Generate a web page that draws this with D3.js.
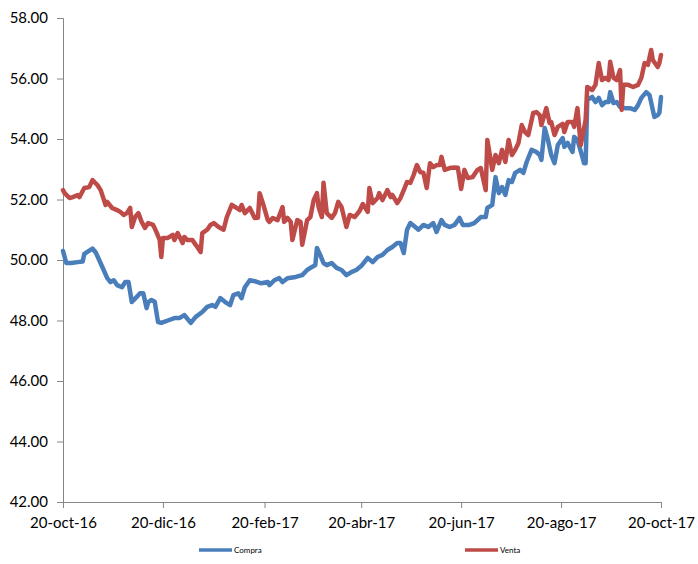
<!DOCTYPE html>
<html>
<head>
<meta charset="utf-8">
<script src="https://cdn.jsdelivr.net/npm/d3@7"></script>
<style>
  html, body { margin: 0; padding: 0; background: #fff; }
  svg { display: block; }
  text { font-family: Lato, "Liberation Sans", Arial, sans-serif; fill: #000; }
</style>
</head>
<body>
<svg id="chart" width="698" height="564"></svg>
<script>
// Tipo de cambio diario: compra y venta
const compraDates = ["2016-10-20","2016-10-22","2016-10-25","2016-10-29","2016-11-01","2016-11-02","2016-11-07","2016-11-09","2016-11-13","2016-11-16","2016-11-18","2016-11-20","2016-11-22","2016-11-25","2016-11-27","2016-11-29","2016-12-01","2016-12-04","2016-12-06","2016-12-08","2016-12-10","2016-12-11","2016-12-13","2016-12-15","2016-12-17","2016-12-19","2016-12-23","2016-12-27","2016-12-30","2017-01-02","2017-01-06","2017-01-09","2017-01-13","2017-01-16","2017-01-19","2017-01-21","2017-01-24","2017-01-27","2017-01-30","2017-02-01","2017-02-04","2017-02-06","2017-02-08","2017-02-11","2017-02-14","2017-02-18","2017-02-22","2017-02-23","2017-02-26","2017-03-01","2017-03-03","2017-03-06","2017-03-11","2017-03-15","2017-03-18","2017-03-21","2017-03-23","2017-03-24","2017-03-26","2017-03-28","2017-03-30","2017-04-02","2017-04-05","2017-04-08","2017-04-11","2017-04-14","2017-04-17","2017-04-20","2017-04-24","2017-04-27","2017-04-30","2017-05-03","2017-05-06","2017-05-09","2017-05-12","2017-05-14","2017-05-16","2017-05-18","2017-05-20","2017-05-23","2017-05-25","2017-05-28","2017-05-31","2017-06-03","2017-06-05","2017-06-08","2017-06-10","2017-06-13","2017-06-16","2017-06-19","2017-06-21","2017-06-25","2017-06-28","2017-07-02","2017-07-05","2017-07-06","2017-07-09","2017-07-11","2017-07-13","2017-07-15","2017-07-17","2017-07-19","2017-07-21","2017-07-23","2017-07-26","2017-07-28","2017-07-30","2017-08-02","2017-08-05","2017-08-07","2017-08-08","2017-08-10","2017-08-12","2017-08-14","2017-08-16","2017-08-18","2017-08-21","2017-08-22","2017-08-24","2017-08-27","2017-08-28","2017-08-30","2017-09-02","2017-09-03","2017-09-04","2017-09-05","2017-09-08","2017-09-10","2017-09-12","2017-09-14","2017-09-16","2017-09-18","2017-09-19","2017-09-21","2017-09-23","2017-09-25","2017-09-28","2017-10-01","2017-10-04","2017-10-06","2017-10-08","2017-10-11","2017-10-13","2017-10-15","2017-10-16","2017-10-18","2017-10-19","2017-10-20"];
const compraValues = [50.30,49.90,49.90,49.93,49.95,50.20,50.38,50.25,49.77,49.40,49.27,49.33,49.17,49.10,49.27,49.27,48.61,48.78,48.90,48.90,48.41,48.61,48.68,48.62,47.95,47.92,48.00,48.08,48.08,48.18,47.92,48.12,48.28,48.45,48.51,48.45,48.74,48.61,48.51,48.84,48.90,48.74,49.10,49.33,49.30,49.23,49.27,49.17,49.33,49.40,49.27,49.40,49.44,49.50,49.67,49.77,49.83,50.40,50.17,49.90,49.83,49.90,49.74,49.67,49.50,49.60,49.67,49.80,50.07,49.93,50.10,50.17,50.33,50.43,50.56,50.56,50.23,51.00,51.22,51.09,51.00,51.16,51.09,51.22,50.93,51.32,51.16,51.09,51.16,51.39,51.16,51.16,51.22,51.42,51.42,51.72,51.82,52.74,52.21,52.41,52.15,52.64,52.58,52.88,52.98,52.88,53.24,53.64,53.57,53.47,53.31,54.36,53.97,53.47,53.20,53.80,54.03,53.74,53.87,53.57,54.07,53.97,53.41,53.20,53.20,55.29,55.39,55.22,55.36,55.12,55.22,55.22,55.55,55.19,55.22,55.06,55.02,55.02,54.96,55.12,55.36,55.55,55.45,54.96,54.73,54.79,54.86,55.39];

const ventaDates = ["2016-10-20","2016-10-21","2016-10-24","2016-10-26","2016-10-29","2016-10-30","2016-11-02","2016-11-05","2016-11-07","2016-11-10","2016-11-12","2016-11-15","2016-11-16","2016-11-19","2016-11-22","2016-11-24","2016-11-26","2016-11-28","2016-11-30","2016-12-01","2016-12-03","2016-12-05","2016-12-07","2016-12-09","2016-12-11","2016-12-14","2016-12-16","2016-12-18","2016-12-19","2016-12-20","2016-12-23","2016-12-26","2016-12-27","2016-12-29","2017-01-01","2017-01-02","2017-01-04","2017-01-07","2017-01-09","2017-01-10","2017-01-12","2017-01-13","2017-01-16","2017-01-18","2017-01-20","2017-01-23","2017-01-26","2017-01-28","2017-01-31","2017-02-03","2017-02-05","2017-02-06","2017-02-08","2017-02-11","2017-02-14","2017-02-16","2017-02-17","2017-02-19","2017-02-22","2017-02-23","2017-02-25","2017-02-28","2017-03-03","2017-03-04","2017-03-06","2017-03-08","2017-03-09","2017-03-12","2017-03-14","2017-03-15","2017-03-18","2017-03-20","2017-03-22","2017-03-24","2017-03-25","2017-03-27","2017-03-28","2017-03-30","2017-04-02","2017-04-04","2017-04-06","2017-04-08","2017-04-11","2017-04-13","2017-04-16","2017-04-19","2017-04-21","2017-04-24","2017-04-25","2017-04-27","2017-04-30","2017-05-01","2017-05-03","2017-05-06","2017-05-08","2017-05-09","2017-05-12","2017-05-14","2017-05-16","2017-05-18","2017-05-20","2017-05-22","2017-05-24","2017-05-26","2017-05-28","2017-05-30","2017-06-01","2017-06-03","2017-06-05","2017-06-07","2017-06-08","2017-06-10","2017-06-13","2017-06-16","2017-06-18","2017-06-20","2017-06-22","2017-06-24","2017-06-27","2017-06-30","2017-07-02","2017-07-05","2017-07-06","2017-07-09","2017-07-11","2017-07-13","2017-07-15","2017-07-17","2017-07-19","2017-07-21","2017-07-23","2017-07-25","2017-07-27","2017-07-29","2017-07-31","2017-08-03","2017-08-05","2017-08-07","2017-08-08","2017-08-11","2017-08-13","2017-08-14","2017-08-16","2017-08-18","2017-08-21","2017-08-22","2017-08-24","2017-08-27","2017-08-28","2017-08-30","2017-09-01","2017-09-02","2017-09-04","2017-09-05","2017-09-08","2017-09-10","2017-09-12","2017-09-14","2017-09-16","2017-09-18","2017-09-19","2017-09-21","2017-09-23","2017-09-25","2017-09-26","2017-09-27","2017-09-30","2017-10-03","2017-10-06","2017-10-08","2017-10-10","2017-10-12","2017-10-14","2017-10-15","2017-10-18","2017-10-19","2017-10-20"];
const ventaValues = [52.31,52.21,52.05,52.08,52.15,52.08,52.38,52.41,52.64,52.48,52.31,51.82,51.92,51.72,51.65,51.59,51.49,51.55,51.72,51.09,51.42,51.55,51.26,51.06,51.22,51.16,50.93,50.66,50.10,50.73,50.73,50.83,50.66,50.89,50.56,50.76,50.66,50.66,50.50,50.43,50.26,50.89,51.00,51.16,51.22,51.09,51.00,51.42,51.82,51.72,51.65,51.82,51.55,51.72,51.39,51.40,52.21,51.88,51.32,51.26,51.39,51.32,51.75,51.26,51.39,51.26,50.66,51.32,51.26,50.50,51.32,51.42,51.98,52.21,51.75,51.42,52.55,51.55,51.39,51.55,51.92,51.75,51.09,51.49,51.42,51.62,51.85,51.59,52.38,51.88,52.05,52.21,51.98,52.31,52.08,52.15,51.88,52.05,52.31,52.58,52.55,52.81,53.14,52.91,52.88,52.38,53.20,53.07,53.14,53.14,53.41,52.98,53.04,53.06,53.05,52.35,52.98,52.71,52.74,52.98,53.04,52.31,53.97,52.98,53.47,53.20,53.64,53.24,53.97,53.47,53.64,53.87,54.46,54.23,54.13,54.86,54.89,54.79,54.46,55.02,54.53,54.56,54.13,54.40,54.50,54.23,54.56,54.56,54.40,55.02,53.80,54.07,54.63,55.72,55.62,55.79,56.51,55.95,56.02,55.95,56.55,56.02,55.95,56.28,54.96,55.79,55.79,55.72,55.79,56.02,56.51,56.45,56.94,56.61,56.38,56.51,56.78];

const xTickDates = ["2016-10-20","2016-12-20","2017-02-20","2017-04-20","2017-06-20","2017-08-20","2017-10-20"];
const xTickLabels = ["20-oct-16","20-dic-16","20-feb-17","20-abr-17","20-jun-17","20-ago-17","20-oct-17"];
const yTicks = [42, 44, 46, 48, 50, 52, 54, 56, 58];

const seriesNames = ["Compra", "Venta"];
const seriesColors = ["#4a7ebb", "#be4b48"];

const parse = d3.timeParse("%Y-%m-%d");
const svg = d3.select("#chart");

const x = d3.scaleTime()
  .domain([parse("2016-10-20"), parse("2017-10-20")])
  .range([63, 661]);
const y = d3.scaleLinear()
  .domain([42, 58])
  .range([502, 18]);

const axisColor = "#868686";

// Y axis
const yAxis = svg.append("g")
  .attr("transform", "translate(63,0)")
  .call(d3.axisLeft(y).tickValues(yTicks).tickFormat(d3.format(".2f")).tickSize(6).tickPadding(9));
yAxis.select(".domain").attr("stroke", axisColor).attr("stroke-width", 1);
yAxis.selectAll(".tick line").attr("stroke", axisColor);
yAxis.selectAll(".tick text").attr("font-size", 15).attr("font-family", "Lato, 'Liberation Sans', Arial, sans-serif").attr("fill", "#000");

// X axis
const xAxis = svg.append("g")
  .attr("transform", "translate(0,502)")
  .call(d3.axisBottom(x)
    .tickValues(xTickDates.map(parse))
    .tickFormat((d, i) => xTickLabels[i])
    .tickSize(6).tickPadding(9));
xAxis.select(".domain").attr("stroke", axisColor).attr("stroke-width", 1);
xAxis.selectAll(".tick line").attr("stroke", axisColor);
xAxis.selectAll(".tick text").attr("font-size", 15).attr("font-family", "Lato, 'Liberation Sans', Arial, sans-serif").attr("fill", "#000");

// Series lines
const line = d3.line()
  .x(d => x(d.date))
  .y(d => y(d.value));

const series = [
  { name: seriesNames[0], color: seriesColors[0], points: compraDates.map((d, i) => ({ date: parse(d), value: compraValues[i] })) },
  { name: seriesNames[1], color: seriesColors[1], points: ventaDates.map((d, i) => ({ date: parse(d), value: ventaValues[i] })) }
];

svg.append("g").selectAll("path")
  .data(series)
  .join("path")
  .attr("d", d => line(d.points.filter(p => p.value != null)))
  .attr("fill", "none")
  .attr("stroke", d => d.color)
  .attr("stroke-width", 4.5)
  .attr("stroke-linejoin", "round")
  .attr("stroke-linecap", "round");

// Legend
const legendX = [199, 465];
const legend = svg.append("g").selectAll("g")
  .data(series)
  .join("g")
  .attr("transform", (d, i) => `translate(${legendX[i]},550)`);
legend.append("line")
  .attr("x1", 0).attr("x2", 33)
  .attr("y1", 0).attr("y2", 0)
  .attr("stroke", d => d.color)
  .attr("stroke-width", 3.5);
legend.append("text")
  .attr("x", 35)
  .attr("y", 3)
  .attr("font-size", 8)
  .text(d => d.name);
</script>
</body>
</html>
